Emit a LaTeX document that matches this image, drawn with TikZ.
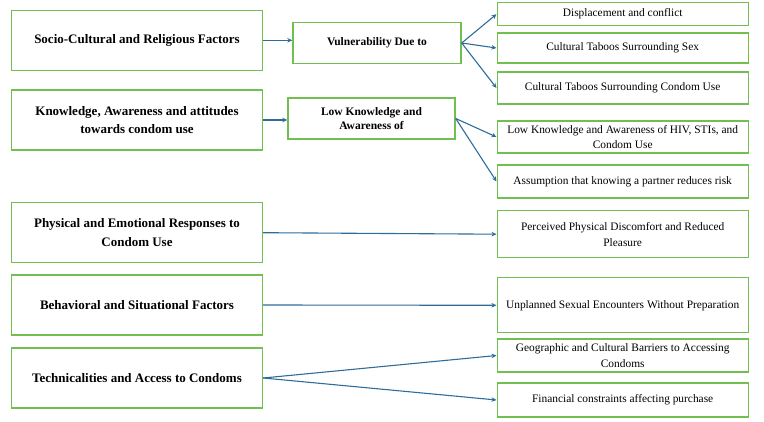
\documentclass[tikz,border=0pt]{standalone}
\usepackage{fontspec}
\setmainfont{Liberation Serif}
\usepackage{tikz}
\usetikzlibrary{arrows.meta,positioning,calc}
\definecolor{BoxGreen}{HTML}{70BF4F}
\definecolor{LinkBlue}{HTML}{2F6C99}

\begin{document}
\begin{tikzpicture}[
    x=1pt, y=-1pt,
    factor/.style={
      draw=BoxGreen,
      line width=1.4pt,
      fill=white,
      minimum width=251pt,
      minimum height=60pt,
      inner sep=2pt,
      font=\fontsize{13}{18.3}\selectfont\bfseries,
      align=center
    },
    theme/.style={
      draw=BoxGreen,
      line width=1.4pt,
      fill=white,
      minimum width=167pt,
      minimum height=41pt,
      inner sep=2pt,
      font=\fontsize{11.5}{14.3}\selectfont\bfseries,
      align=center
    },
    barrier/.style={
      draw=BoxGreen,
      line width=1.4pt,
      fill=white,
      minimum width=251pt,
      inner sep=1pt,
      font=\fontsize{11.4}{15.7}\selectfont,
      align=center
    },
    arr/.style={
      -{Stealth[length=5pt,width=4.5pt]},
      line width=1.1pt,
      color=LinkBlue
    }
  ]

  \useasboundingbox (0,0) rectangle (764,422);

  % Main factors
  \node[factor] (l1) at (137,40.3) {Socio-Cultural and Religious Factors};
  \node[factor] (l2) at (137,120) {Knowledge, Awareness and attitudes\\towards condom use};
  \node[factor] (l3) at (137,232.7) {Physical and Emotional Responses to\\Condom Use};
  \node[factor] (l4) at (137,305) {Behavioral and Situational Factors};
  \node[factor] (l5) at (137,378) {Technicalities and Access to Condoms};

  % Themes
  \node[theme, minimum width=168pt] (v) at (377,43) {Vulnerability Due to};
  \node[theme] (lk) at (371.5,118.5) {Low Knowledge and\\Awareness of};

  % Barriers
  \node[barrier, minimum height=23pt] (r1) at (622.7,14.2) {Displacement and conflict};
  \node[barrier, minimum height=30pt] (r2) at (622.7,48) {Cultural Taboos Surrounding Sex};
  \node[barrier, minimum height=32pt] (r3) at (622.7,88) {Cultural Taboos Surrounding Condom Use};
  \node[barrier, minimum height=32pt] (r4) at (622.7,137) {Low Knowledge and Awareness of HIV, STIs, and\\Condom Use};
  \node[barrier, minimum height=33pt] (r5) at (622.7,181.5) {Assumption that knowing a partner reduces risk};
  \node[barrier, minimum height=47pt] (r6) at (622.7,234.2) {Perceived Physical Discomfort and Reduced\\Pleasure};
  \node[barrier, minimum height=55pt] (r7) at (622.7,305.3) {Unplanned Sexual Encounters Without Preparation};
  \node[barrier, minimum height=33pt] (r8) at (622.7,355.5) {Geographic and Cultural Barriers to Accessing\\Condoms};
  \node[barrier, minimum height=34pt] (r9) at (622.7,400) {Financial constraints affecting purchase};

  % Links
  \draw[arr] (l1.east) -- (l1.east -| v.west);
  \draw[arr] (l2.east) -- (l2.east -| lk.west);

  \draw[arr] (v.east) -- (r1.west);
  \draw[arr] (v.east) -- (r2.west);
  \draw[arr] (v.east) -- (r3.west);

  \draw[arr] (lk.east) -- (r4.west);
  \draw[arr] (lk.east) -- (r5.west);

  \draw[arr] (l3.east) -- (r6.west);
  \draw[arr] (l4.east) -- (r7.west);
  \draw[arr] (l5.east) -- (r8.west);
  \draw[arr] (l5.east) -- (r9.west);

\end{tikzpicture}
\end{document}
